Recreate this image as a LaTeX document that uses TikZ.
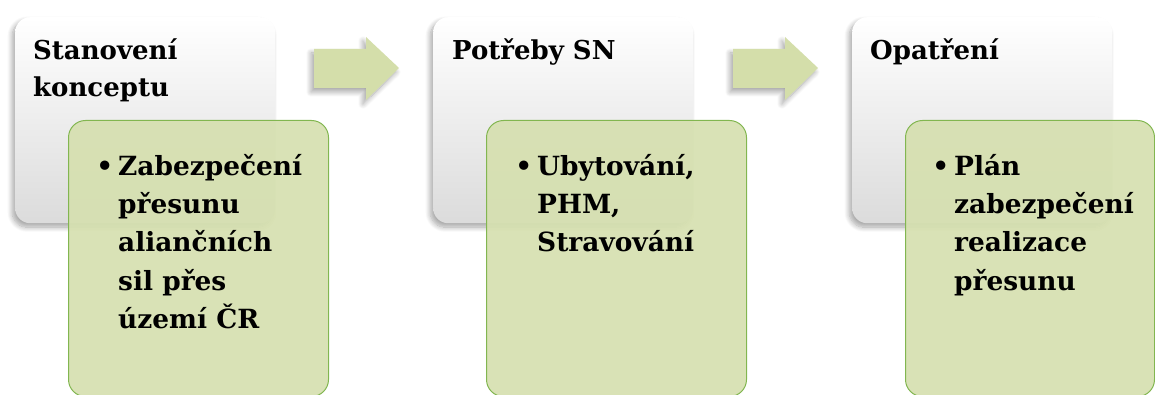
\documentclass[tikz,border=0pt]{standalone}
\usepackage{fontspec}
\setmainfont{DejaVu Serif}
\usetikzlibrary{shadows.blur}
\definecolor{gfill}{RGB}{214,224,176}
\definecolor{gdraw}{RGB}{130,182,80}
\definecolor{afill}{RGB}{212,222,170}
\begin{document}
\begin{tikzpicture}[x=1pt,y=-1pt,
  card/.style={rounded corners=15pt, top color=white, middle color=white, bottom color=black!14,
    blur shadow={shadow xshift=-3pt, shadow yshift=-4pt, shadow blur steps=10, shadow opacity=35, shadow blur radius=5pt},
    minimum width=260pt, minimum height=206pt, anchor=north west, inner sep=0pt},
  gbox/.style={rounded corners=17pt, fill=gfill, fill opacity=0.93, draw=gdraw, line width=1pt,
    minimum height=276pt, anchor=north west, inner sep=0pt},
  blockarrow/.style={fill=afill, draw=none,
    blur shadow={shadow xshift=-3pt, shadow yshift=-4pt, shadow blur steps=10, shadow opacity=35, shadow blur radius=5pt}},
  title/.style={font=\bfseries\fontsize{26}{37}\selectfont, align=left, inner sep=0pt, anchor=north west},
  item/.style={font=\bfseries\fontsize{26.4}{38.3}\selectfont, align=left, inner sep=0pt, anchor=north west}
]
\useasboundingbox (0,0) rectangle (1155,395);

% stage 1
\node[card] (c1) at (15,17) {};
\node[title] (t1) at (33,39) {Stanovení\\konceptu};
\node[gbox, minimum width=260pt] (g1) at (68,120) {};
\node[item] (i1) at (118,154) {\llap{\textbullet\hspace{5pt}}Zabezpečení\\přesunu\\aliančních\\sil přes\\území ČR};

% arrow 1
\path[blockarrow] (314,49) -- (366,49) -- (366,37) -- (399,68) -- (366,100) -- (366,88) -- (314,88) -- cycle;

% stage 2
\node[card] (c2) at (433,17) {};
\node[title] (t2) at (452,39) {Potřeby SN};
\node[gbox, minimum width=260pt] (g2) at (486,120) {};
\node[item] (i2) at (537,154) {\llap{\textbullet\hspace{5pt}}Ubytování,\\PHM,\\Stravování};

% arrow 2
\path[blockarrow] (733,49) -- (785,49) -- (785,37) -- (818,68) -- (785,100) -- (785,88) -- (733,88) -- cycle;

% stage 3
\node[card] (c3) at (852,17) {};
\node[title] (t3) at (870,39) {Opatření};
\node[gbox, minimum width=249pt] (g3) at (905,120) {};
\node[item] (i3) at (954,154) {\llap{\textbullet\hspace{5pt}}Plán\\zabezpečení\\realizace\\přesunu};
\end{tikzpicture}
\end{document}
